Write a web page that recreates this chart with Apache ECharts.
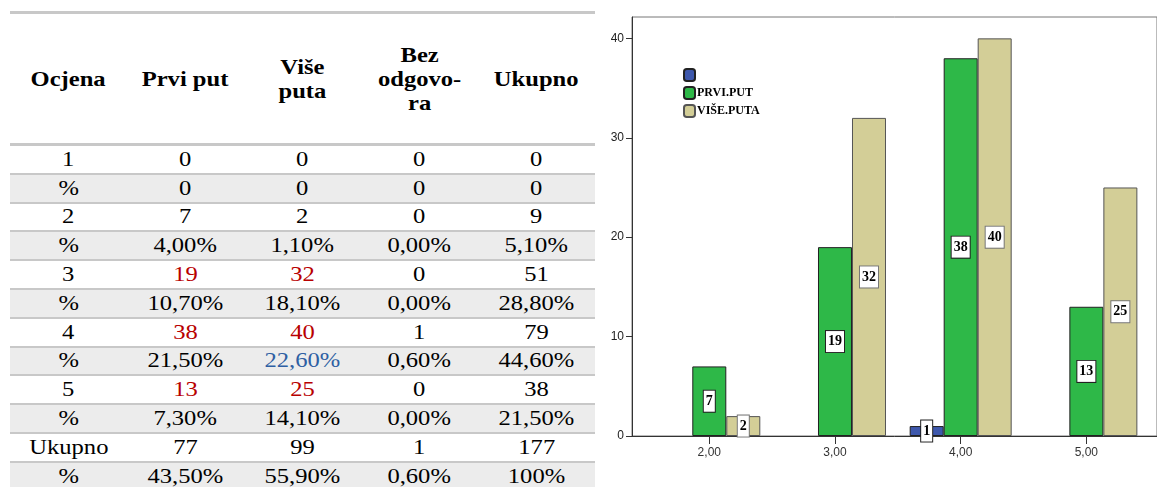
<!DOCTYPE html>
<html>
<head>
<meta charset="utf-8">
<script src="https://cdn.jsdelivr.net/npm/echarts@6/dist/echarts.min.js"></script>
<style>
html, body {
  margin: 0;
  padding: 0;
  width: 1157px;
  height: 487px;
  overflow: hidden;
  background: #fff;
}
#tbl {
  position: absolute;
  left: 10px;
  top: 11px;
  width: 585px;
  border-top: 3px solid #c8c8c8;
  font-family: 'Liberation Serif', 'Times New Roman', serif;
  font-size: 21px;
  color: #000;
}
.row {
  display: flex;
  box-sizing: border-box;
  height: 28.8px;
  border-bottom: 2px solid #c8c8c8;
  align-items: center;
}
.row.head {
  height: 132px;
  border-bottom: 3px solid #c8c8c8;
  font-weight: bold;
  line-height: 24px;
}
.row.gray {
  background: #ececec;
}
.cell {
  flex: 0 0 117px;
  text-align: center;
}
/* the source table is a bit stretched horizontally */
.cell span {
  display: inline-block;
  transform: scaleX(1.17);
}
.red { color: #b80000; }
.blue { color: #2e5fa3; }
#chart {
  position: absolute;
  left: 600px;
  top: 0;
  width: 557px;
  height: 487px;
}
</style>
</head>
<body>
<div id="tbl"></div>
<div id="chart"></div>
<script>
// table data
const headers = ['Ocjena', 'Prvi put', 'Više<br>puta', 'Bez<br>odgovo-<br>ra', 'Ukupno']
const ocjene = ['1', '2', '3', '4', '5', 'Ukupno']
const prviPut = [0, 7, 19, 38, 13, 77]
const viseputa = [0, 2, 32, 40, 25, 99]
const bezOdgovora = [0, 0, 0, 1, 0, 1]
const ukupno = [0, 9, 51, 79, 38, 177]
const prviPutPct = ['0', '4,00%', '10,70%', '21,50%', '7,30%', '43,50%']
const viseputaPct = ['0', '1,10%', '18,10%', '22,60%', '14,10%', '55,90%']
const bezOdgovoraPct = ['0', '0,00%', '0,00%', '0,60%', '0,00%', '0,60%']
const ukupnoPct = ['0', '5,10%', '28,80%', '44,60%', '21,50%', '100%']

// chart data (ocjene 2-5)
const grades = [2, 3, 4, 5]
const seriesNames = ['Bez odgovora', 'PRVI.PUT', 'VIŠE.PUTA']
const chartBez = [0, 0, 1, 0]
const chartPrvi = [7, 19, 38, 13]
const chartVise = [2, 32, 40, 25]
const yTicks = [0, 10, 20, 30, 40]

// build table
const cell = (txt, cls) => '<div class="cell' + (cls || '') + '"><span>' + txt + '</span></div>'
let html = '<div class="row head">' + headers.map(h => cell(h)).join('') + '</div>'
ocjene.forEach((o, i) => {
  // red counts for ocjene 3-5
  const hot = i >= 2 && i <= 4 ? ' red' : ''
  html += '<div class="row">' +
    cell(o) + cell(prviPut[i], hot) + cell(viseputa[i], hot) +
    cell(bezOdgovora[i]) + cell(ukupno[i]) + '</div>'
  html += '<div class="row gray">' +
    cell('%') + cell(prviPutPct[i]) + cell(viseputaPct[i], i === 3 ? ' blue' : '') +
    cell(bezOdgovoraPct[i]) + cell(ukupnoPct[i]) + '</div>'
})
document.getElementById('tbl').innerHTML = html

// chart
const chart = echarts.init(document.getElementById('chart'))

const barLabel = (border) => ({
  show: true,
  position: 'inside',
  backgroundColor: '#fff',
  borderColor: border,
  borderWidth: 1,
  padding: [4, 2, 3, 2],
  fontFamily: 'Liberation Serif',
  fontWeight: 'bold',
  fontSize: 14,
  color: '#000'
})

// zero bars: no label, no outline
const toData = (vals) => grades.map((g, i) => ({
  value: [g, vals[i]],
  label: { show: vals[i] > 0 },
  itemStyle: vals[i] > 0 ? {} : { borderWidth: 0 }
}))

chart.setOption({
  animation: false,
  grid: {
    left: 32,
    top: 17,
    bottom: 51,
    right: -5,
    show: true,
    borderColor: '#777',
    borderWidth: 1
  },
  legend: {
    orient: 'vertical',
    left: 83,
    top: 68,
    itemWidth: 11,
    itemHeight: 12,
    itemGap: 4,
    padding: 0,
    data: seriesNames,
    formatter: (name) => (name === 'Bez odgovora' ? '' : name),
    textStyle: {
      fontFamily: 'Liberation Serif',
      fontSize: 12,
      fontWeight: 'bold',
      color: '#000',
      padding: [0, 0, 0, -3]
    }
  },
  xAxis: {
    type: 'value',
    min: 1.385,
    max: 5.562,
    splitLine: { show: false },
    axisLine: { lineStyle: { color: '#333' } },
    axisTick: { customValues: grades, length: 8, lineStyle: { color: '#333' } },
    axisLabel: {
      customValues: grades,
      formatter: (v) => v.toFixed(2).replace('.', ','),
      margin: 11,
      fontFamily: 'Liberation Sans',
      fontSize: 12,
      color: '#333'
    }
  },
  yAxis: {
    type: 'value',
    min: 0,
    max: 42.15,
    splitLine: { show: false },
    axisLine: { show: true, lineStyle: { color: '#333' } },
    axisTick: { show: true, customValues: yTicks, length: 6, lineStyle: { color: '#333' } },
    axisLabel: {
      customValues: yTicks,
      margin: 8,
      fontFamily: 'Liberation Sans',
      fontSize: 12,
      color: '#222'
    }
  },
  series: [
    {
      name: seriesNames[0],
      type: 'bar',
      barWidth: 34,
      barGap: '0%',
      itemStyle: { color: '#3e58ac', borderColor: '#222', borderWidth: 1 },
      label: barLabel('#222'),
      data: toData(chartBez)
    },
    {
      name: seriesNames[1],
      type: 'bar',
      barWidth: 34,
      barGap: '0%',
      itemStyle: { color: '#2eb848', borderColor: '#222', borderWidth: 1 },
      label: barLabel('#222'),
      data: toData(chartPrvi)
    },
    {
      name: seriesNames[2],
      type: 'bar',
      barWidth: 34,
      barGap: '0%',
      itemStyle: { color: '#d3ce97', borderColor: '#555', borderWidth: 1 },
      label: barLabel('#777'),
      data: toData(chartVise)
    }
  ]
})
</script>
</body>
</html>
